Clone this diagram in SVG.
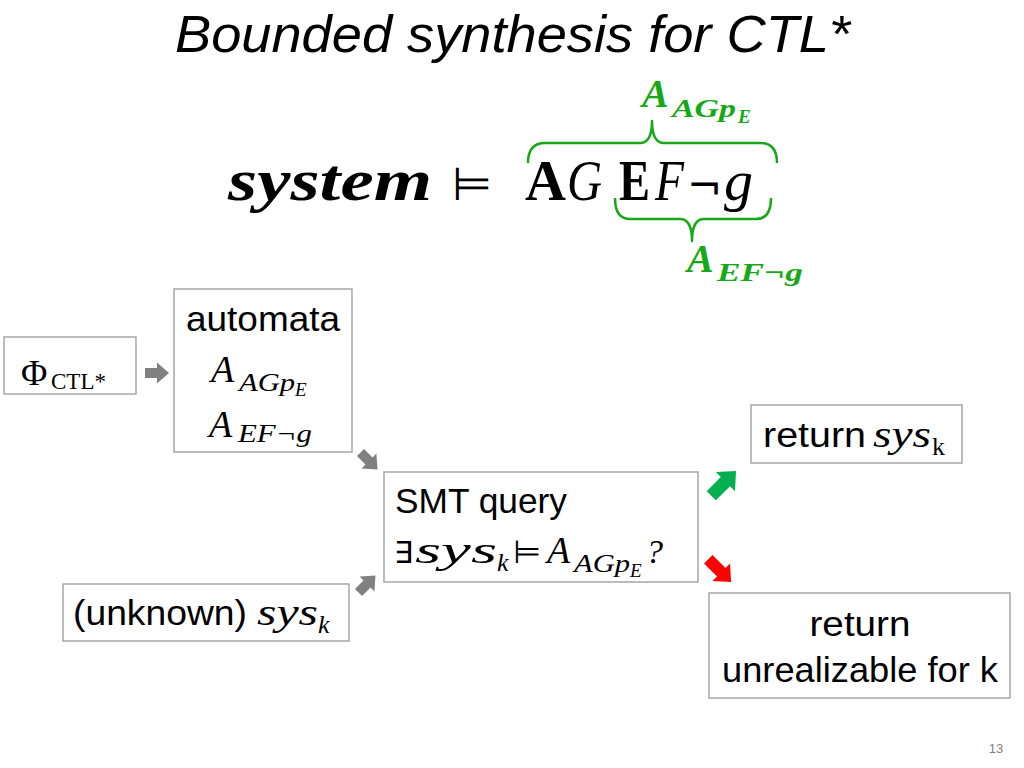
<svg xmlns="http://www.w3.org/2000/svg" width="1024" height="768" viewBox="0 0 1024 768">
<style>
.box{fill:#fff;stroke:#a6a6a6;stroke-width:1.5}
.t{font-family:"Liberation Sans",Arial,sans-serif;font-size:35px;fill:#000}
.m{font-family:"Liberation Serif","Times New Roman",serif;font-style:italic;fill:#000}
.r{font-family:"Liberation Serif","Times New Roman",serif;fill:#000}
.sym{font-family:"DejaVu Sans",sans-serif;fill:#000}
.g{fill:#17a817}
.brace{fill:none;stroke:#17a817;stroke-width:2.5;stroke-linejoin:round}
</style>
<defs>
<polygon id="arr" points="-12,-5 0,-5 0,-10.5 12,0 0,10.5 0,5 -12,5"/>
<polygon id="arrBig" points="-18,-6.5 2,-6.5 2,-13.5 17,0 2,13.5 2,6.5 -18,6.5"/>
</defs>
<rect width="1024" height="768" fill="#fff"/>

<g id="title">
<text x="175" y="52" font-family="Liberation Sans,Arial,sans-serif" font-style="italic" font-size="52" textLength="675" lengthAdjust="spacingAndGlyphs">Bounded synthesis for CTL*</text>
</g>

<g id="formula">
<text x="228" y="200" class="m" font-weight="bold" font-size="60" textLength="204" lengthAdjust="spacingAndGlyphs">system</text>
<text x="452" y="200" class="sym" font-size="46">⊨</text>
<text x="525" y="200" class="r" font-weight="bold" font-size="58" textLength="41" lengthAdjust="spacingAndGlyphs">A</text>
<text x="567" y="200" class="m" font-size="58" textLength="35" lengthAdjust="spacingAndGlyphs">G</text>
<text x="619" y="200" class="r" font-weight="bold" font-size="58" textLength="31" lengthAdjust="spacingAndGlyphs">E</text>
<text x="655" y="200" class="m" font-size="58" textLength="29" lengthAdjust="spacingAndGlyphs">F</text>
<text x="687" y="200" class="sym" font-size="42">¬</text>
<text x="724" y="200" class="m" font-size="58">g</text>
<path class="brace" d="M528,163 Q528,143 545,143 L640,143 Q652,143 652,121 Q652,143 664,143 L760,143 Q777,143 777,163"/>
<path class="brace" d="M615,198 Q615,219 630,219 L680,219 Q692,219 692,241 Q692,219 704,219 L756,219 Q771,219 771,198"/>
<text x="642" y="107" class="m g" font-weight="bold" font-size="40">A</text>
<text x="672" y="117" class="m g" font-weight="bold" font-size="26" textLength="64" lengthAdjust="spacingAndGlyphs">AGp</text>
<text x="738" y="123" class="m g" font-weight="bold" font-size="19">E</text>
<text x="687" y="272" class="m g" font-weight="bold" font-size="40">A</text>
<text x="717" y="281" class="m g" font-weight="bold" font-size="26" textLength="86" lengthAdjust="spacingAndGlyphs">EF¬g</text>
</g>

<g id="phi">
<rect class="box" x="4" y="337" width="132" height="57"/>
<text x="21" y="385" class="r" font-size="36">Φ</text>
<text x="51" y="389" class="r" font-size="23">CTL*</text>
</g>

<g id="automata">
<rect class="box" x="174" y="289" width="178" height="163"/>
<text x="263" y="331" class="t" text-anchor="middle" textLength="154" lengthAdjust="spacingAndGlyphs">automata</text>
<text x="211" y="382" class="m" font-size="38">A</text>
<text x="239" y="391" class="m" font-size="26" textLength="56" lengthAdjust="spacingAndGlyphs">AGp</text>
<text x="295" y="396" class="m" font-size="19">E</text>
<text x="209" y="437" class="m" font-size="38">A</text>
<text x="238" y="442" class="m" font-size="26" textLength="74" lengthAdjust="spacingAndGlyphs">EF¬g</text>
</g>

<g id="smt">
<rect class="box" x="384" y="472" width="314" height="110"/>
<text x="395" y="513" class="t" textLength="172" lengthAdjust="spacingAndGlyphs">SMT query</text>
<text x="394" y="563" class="sym" font-size="30">∃</text>
<text x="415" y="563" class="m" font-size="38" textLength="82" lengthAdjust="spacingAndGlyphs">sys</text>
<text x="497" y="571" class="m" font-size="26">k</text>
<text x="513" y="563" class="sym" font-size="32">⊨</text>
<text x="547" y="563" class="m" font-size="38">A</text>
<text x="574" y="572" class="m" font-size="26" textLength="56" lengthAdjust="spacingAndGlyphs">AGp</text>
<text x="630" y="577" class="m" font-size="19">E</text>
<text x="646" y="563" class="m" font-size="34">?</text>
</g>

<g id="unknown">
<rect class="box" x="63" y="584" width="286" height="57"/>
<text x="73" y="625" class="t" textLength="174" lengthAdjust="spacingAndGlyphs">(unknown)</text>
<text x="257" y="625" class="m" font-size="38" textLength="61" lengthAdjust="spacingAndGlyphs">sys</text>
<text x="318" y="633" class="m" font-size="26">k</text>
</g>

<g id="return-sys">
<rect class="box" x="751" y="405" width="211" height="58"/>
<text x="763" y="447" class="t" textLength="103" lengthAdjust="spacingAndGlyphs">return</text>
<text x="873" y="447" class="m" font-size="38" textLength="58" lengthAdjust="spacingAndGlyphs">sys</text>
<text x="932" y="455" class="r" font-size="26">k</text>
</g>

<g id="return-unreal">
<rect class="box" x="709" y="593" width="301" height="105"/>
<text x="860" y="636" class="t" text-anchor="middle" textLength="101" lengthAdjust="spacingAndGlyphs">return</text>
<text x="860" y="682" class="t" text-anchor="middle" textLength="276" lengthAdjust="spacingAndGlyphs">unrealizable for k</text>
</g>

<g id="connectors">
<use href="#arr" transform="translate(157,373)" fill="#808080"/>
<use href="#arr" transform="translate(369,461) rotate(45)" fill="#808080"/>
<use href="#arr" transform="translate(367,584) rotate(-45)" fill="#808080"/>
<use href="#arrBig" transform="translate(724,483) rotate(-45)" fill="#00b050"/>
<use href="#arrBig" transform="translate(720,571) rotate(45) scale(0.92)" fill="#ff0000"/>
</g>

<text x="996" y="753" font-family="Liberation Sans,Arial,sans-serif" font-size="13" fill="#7f7f7f" text-anchor="middle">13</text>
</svg>
